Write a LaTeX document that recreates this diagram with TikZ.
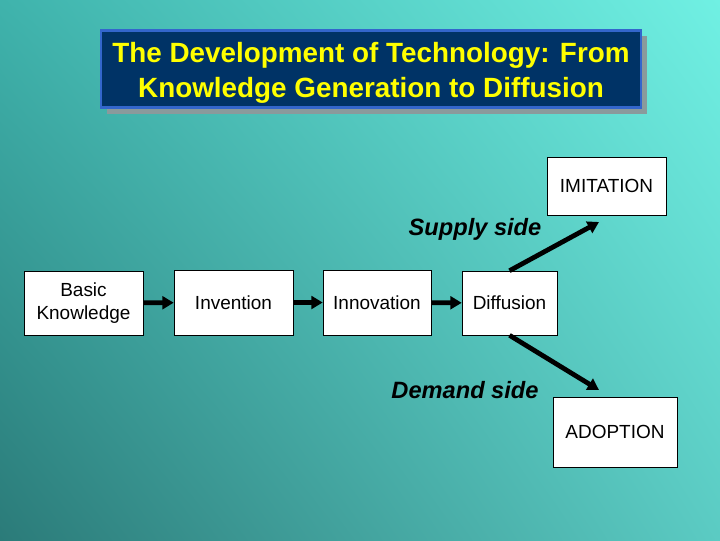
\documentclass[tikz,border=0pt]{standalone}
\usepackage{fontspec}
\setmainfont{Liberation Sans}
\usepackage{xcolor}
\usetikzlibrary{arrows.meta, positioning, calc, shadows, shadings}
\definecolor{bgUL}{HTML}{3FB3AC}
\definecolor{bgUR}{HTML}{70F0E3}
\definecolor{bgLL}{HTML}{2B7B79}
\definecolor{bgLR}{HTML}{5BCBC3}
\definecolor{titlenavy}{HTML}{003366}
\definecolor{titleblue}{HTML}{3366CC}
\definecolor{titleyellow}{HTML}{FFFF00}
\definecolor{shadowgray}{HTML}{8A9A9C}
\tikzset{
    box/.style={draw=black, thin, fill=white, align=center, inner sep=2pt,
        font=\fontsize{13.5}{16}\selectfont},
    flow/.style={-{Triangle[length=8pt, width=9pt]}, line width=3.4pt},
    side_label/.style={font=\fontsize{16.8}{20}\selectfont\bfseries\itshape},
    title_box/.style={draw=titleblue, line width=1.5pt, fill=titlenavy,
        drop shadow={shadow xshift=0.15cm, shadow yshift=-0.15cm, fill=shadowgray, opacity=1}},
    title_text/.style={text=titleyellow, align=center, font=\fontsize{19.8}{24.8}\selectfont\bfseries}
}

\begin{document}
\begin{tikzpicture}[x=0.025cm, y=-0.025cm]
    % Background
    \shade[upper left=bgUL, upper right=bgUR, lower left=bgLL, lower right=bgLR]
        (0,0) rectangle (720,540);
    \useasboundingbox (0,0) rectangle (720,540);
    % Title
    \node[title_box, minimum width=13.5cm, minimum height=1.925cm] (title) at (371,69) {};
    \node[title_text] (title_text) at ($(title.center)+(0,4)$)
        {The Development of Technology: From\\Knowledge Generation to Diffusion};
    % Main chain
    \node[box, minimum width=2.975cm, minimum height=1.6cm] (basic) at (83.5,303) {Basic\\Knowledge};
    \node[box, minimum width=2.975cm, minimum height=1.625cm] (invention) at (233.5,302.5) {Invention};
    \node[box, minimum width=2.7cm, minimum height=1.625cm] (innovation) at (377,302.5) {Innovation};
    \node[box, minimum width=2.375cm, minimum height=1.6cm] (diffusion) at (509.5,303) {Diffusion};
    \draw[flow] (basic) -- (invention);
    \draw[flow] (invention) -- (innovation);
    \draw[flow] (innovation) -- (diffusion);
    % Two sides
    \node[box, minimum width=2.975cm, minimum height=1.45cm] (imitation) at (606.5,186) {IMITATION};
    \node[box, minimum width=3.1cm, minimum height=1.75cm] (adoption) at (615,432) {ADOPTION};
    \coordinate (supply_end) at (599,222);
    \coordinate (demand_end) at (599,390);
    \draw[flow] (diffusion.north) -- (supply_end);
    \draw[flow] (diffusion.south) -- (demand_end);
    \node[side_label] (supply) at (475,229) {Supply side};
    \node[side_label] (demand) at (465,390) {Demand side};
\end{tikzpicture}
\end{document}
